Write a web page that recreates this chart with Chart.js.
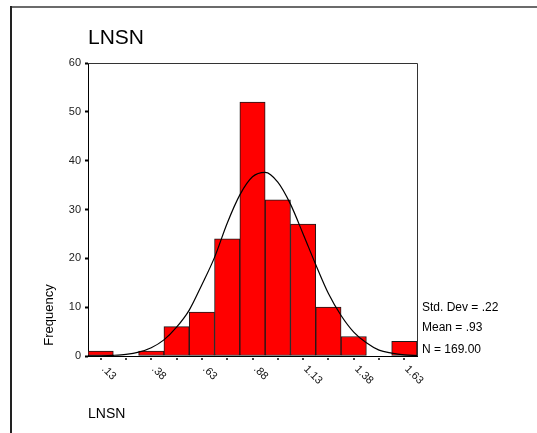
<!DOCTYPE html>
<html>
<head>
<meta charset="utf-8">
<script src="https://cdn.jsdelivr.net/npm/chart.js@4.4.1/dist/chart.umd.min.js"></script>
<style>
  body { margin: 0; background: #fff; }
  canvas { display: block; }
</style>
</head>
<body>
<canvas id="histo" width="537" height="433"></canvas>
<script>
// bins of LNSN, width .125
const binCenters = [0.13, 0.255, 0.38, 0.505, 0.63, 0.755, 0.88, 1.005, 1.13, 1.255, 1.38, 1.505, 1.63];
const frequencies = [1, 0, 1, 6, 9, 24, 52, 32, 27, 10, 4, 0, 3];
const tickLabels = ['.13', '', '.38', '', '.63', '', '.88', '', '1.13', '', '1.38', '', '1.63'];

// normal curve, every half bin
const curveX = [0.0675, 0.13, 0.1925, 0.255, 0.3175, 0.38, 0.4425, 0.505, 0.5675, 0.63, 0.6925, 0.755, 0.8175,
  0.88, 0.9425, 1.005, 1.0675, 1.13, 1.1925, 1.255, 1.3175, 1.38, 1.4425, 1.505, 1.5675, 1.63, 1.6925];
const curveY = [0.02, 0.05, 0.14, 0.34, 0.8, 1.7, 3.3, 5.9, 9.4, 14.6, 20.2, 27.2, 33.0,
  36.7, 37.6, 35.6, 31.1, 25.0, 18.7, 12.8, 8.3, 4.9, 2.7, 1.2, 0.6, 0.24, 0.09];

const yTicks = [0, 10, 20, 30, 40, 50, 60];
const statLines = ['Std. Dev = .22', 'Mean = .93', 'N = 169.00'];
const chartTitle = 'LNSN';
const xTitle = 'LNSN';
const yTitle = 'Frequency';

const FONT = "'Liberation Sans', Arial, sans-serif";

// frame, plot box, x ticks and all the loose texts
const decor = {
    id: 'decor',
    afterDraw(chart) {
        const ctx = chart.ctx;
        const area = chart.chartArea;
        const xs = chart.scales.x;
        ctx.save();

        // outer frame (top + left only)
        ctx.fillStyle = '#6b6b6b';
        ctx.fillRect(10, 6, 527, 2);
        ctx.fillStyle = '#222';
        ctx.fillRect(10, 6, 2, 427);

        // plot box top and right
        ctx.strokeStyle = '#333';
        ctx.lineWidth = 1;
        ctx.beginPath();
        ctx.moveTo(area.left, area.top + 0.5);
        ctx.lineTo(area.right + 0.5, area.top + 0.5);
        ctx.lineTo(area.right + 0.5, area.bottom);
        ctx.stroke();

        // tick dots + rotated labels
        ctx.font = '11px ' + FONT;
        ctx.textBaseline = 'middle';
        ctx.textAlign = 'left';
        binCenters.forEach((v, i) => {
            const px = Math.round(xs.getPixelForValue(v));
            ctx.fillStyle = '#444';
            ctx.fillRect(px - 1, area.bottom + 2, 2, 2);
            if (tickLabels[i]) {
                ctx.save();
                ctx.translate(px + 1, area.bottom + 10);
                ctx.rotate(Math.PI / 4);
                ctx.fillStyle = '#111';
                ctx.fillText(tickLabels[i], 2, 0);
                ctx.restore();
            }
        });

        ctx.fillStyle = '#000';
        ctx.textBaseline = 'alphabetic';

        ctx.font = '21px ' + FONT;
        ctx.fillText(chartTitle, 88, 44);

        ctx.font = '14px ' + FONT;
        ctx.fillText(xTitle, 88, 418);

        ctx.save();
        ctx.font = '13px ' + FONT;
        ctx.translate(53, 315);
        ctx.rotate(-Math.PI / 2);
        ctx.textAlign = 'center';
        ctx.fillText(yTitle, 0, 0);
        ctx.restore();

        ctx.font = '12px ' + FONT;
        ctx.fillText(statLines[0], 422, 311);
        ctx.fillText(statLines[1], 422, 331);
        ctx.fillText(statLines[2], 422, 353);

        ctx.restore();
    }
};

new Chart(document.getElementById('histo'), {
    data: {
        datasets: [{
            type: 'line',
            data: curveX.map((x, i) => ({ x: x, y: curveY[i] })),
            borderColor: '#000',
            borderWidth: 1.2,
            pointRadius: 0,
            cubicInterpolationMode: 'monotone',
            order: 0
        }, {
            type: 'bar',
            data: binCenters.map((x, i) => ({ x: x, y: frequencies[i] })),
            backgroundColor: '#ff0000',
            borderColor: '#1a1a1a',
            borderWidth: 1,
            borderSkipped: false,
            barPercentage: 1,
            categoryPercentage: 1,
            order: 1
        }]
    },
    options: {
        responsive: false,
        animation: false,
        layout: { padding: { left: 0, top: 63, right: 120, bottom: 0 } },
        plugins: { legend: { display: false }, tooltip: { enabled: false } },
        scales: {
            x: {
                type: 'linear',
                min: 0.0675,
                max: 1.6925,
                offset: false,
                grid: { display: false },
                border: { color: '#000', width: 1 },
                ticks: { display: false },
                afterFit(scale) { scale.height = 77; }
            },
            y: {
                min: 0,
                max: 60,
                afterBuildTicks(scale) { scale.ticks = yTicks.map(v => ({ value: v })); },
                grid: { drawOnChartArea: false, drawTicks: true, tickLength: 3, tickColor: '#000', tickWidth: 2 },
                border: { color: '#000', width: 1 },
                ticks: { font: { family: FONT, size: 11 }, color: '#222', padding: 4 },
                afterFit(scale) { scale.width = 88; }
            }
        }
    },
    plugins: [decor]
});
</script>
</body>
</html>
